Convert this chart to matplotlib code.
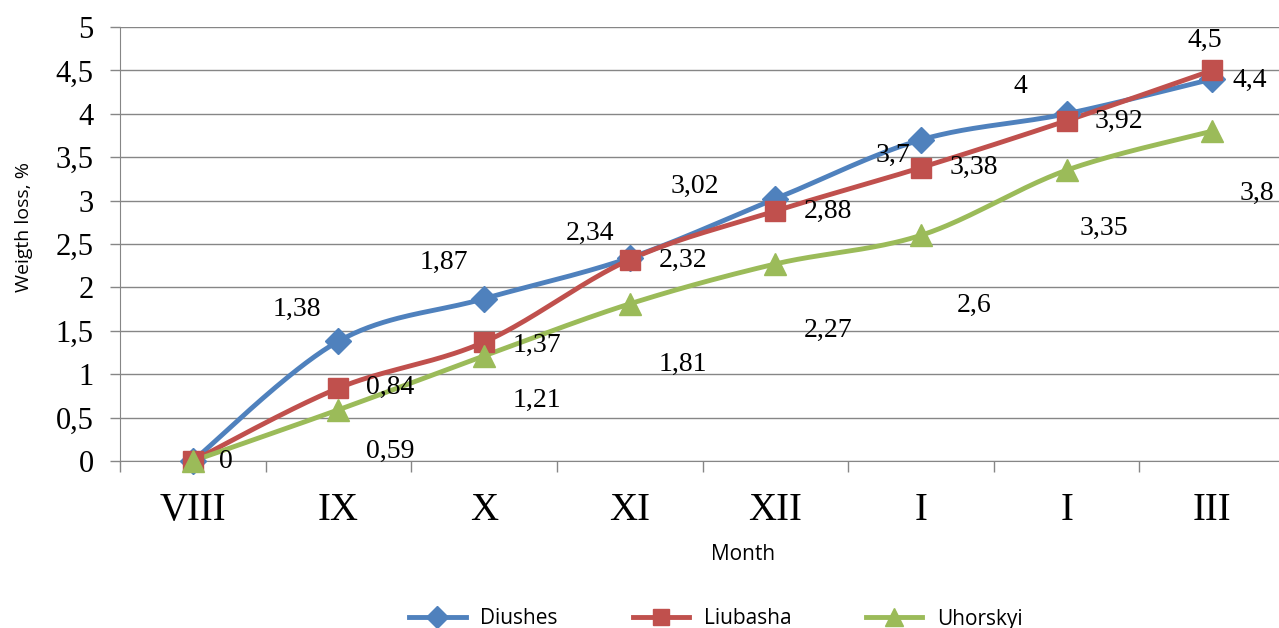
import matplotlib.pyplot as plt
import numpy as np
from matplotlib.lines import Line2D

# --- data ---
months = ['VIII', 'IX', 'X', 'XI', 'XII', 'I', 'I', 'III']
diushes = [0, 1.38, 1.87, 2.34, 3.02, 3.7, 4, 4.4]
liubasha = [0, 0.84, 1.37, 2.32, 2.88, 3.38, 3.92, 4.5]
uhorskyi = [0, 0.59, 1.21, 1.81, 2.27, 2.6, 3.35, 3.8]

# label offsets (pixels) - labels were hand placed in the original
off_d = [None, (-42, 32), (-40, 36), (-40, 24), (-80, 12), (-28, -16), (-46, 27), (38, -1)]
off_l = [(33, 0), (52, 1), (53, -3), (53, -1), (53, 0), (53, 0), (52, -1), (-7, 30)]
off_u = [None, (52, -42), (53, -44), (53, -61), (53, -66), (53, -70), (37, -58), (45, -62)]


def smooth(x, y, n=40):
    # excel-like smoothed line (catmull-rom as cubic bezier)
    p = np.column_stack([x, y]).astype(float)
    p = np.vstack([p[0], p, p[-1]])
    out = []
    t = np.linspace(0, 1, n)[:, None]
    for i in range(1, len(p) - 2):
        p0, p1, p2, p3 = p[i - 1], p[i], p[i + 1], p[i + 2]
        c1 = p1 + (p2 - p0) / 6
        c2 = p2 - (p3 - p1) / 6
        seg = (1 - t) ** 3 * p1 + 3 * (1 - t) ** 2 * t * c1 + 3 * (1 - t) * t ** 2 * c2 + t ** 3 * p2
        out.append(seg)
    out = np.vstack(out)
    return out[:, 0], out[:, 1]


fig = plt.figure(figsize=(12.79, 6.28), dpi=100)
ax = fig.add_axes([120 / 1279, 1 - 461 / 628, 1165 / 1279, 434 / 628])

x = np.arange(len(months))
series = [
    (diushes, '#4F81BD', 'D', 13, 'Diushes', off_d),
    (liubasha, '#C0504D', 's', 14, 'Liubasha', off_l),
    (uhorskyi, '#9BBB59', '^', 16, 'Uhorskyi', off_u),
]

for vals, col, mk, ms, name, offs in series:
    sx, sy = smooth(x, vals)
    ax.plot(sx, sy, color=col, lw=3.5, solid_capstyle='round', clip_on=False, zorder=3)
    ax.plot(x, vals, ls='none', marker=mk, ms=ms, color=col, mec=col, clip_on=False, zorder=4)
    for xi, v, o in zip(x, vals, offs):
        if o is None:
            continue
        ax.annotate(f'{v:g}'.replace('.', ','), (xi, v), xytext=o, textcoords='offset pixels',
                    ha='center', va='center', fontsize=20, family='Liberation Serif',
                    annotation_clip=False, zorder=5)

ax.set_xlim(-0.5, len(months) - 0.5)
ax.set_ylim(0, 5)
ax.set_yticks(np.arange(0, 5.01, 0.5))
ax.set_yticklabels([f'{v:g}'.replace('.', ',') for v in np.arange(0, 5.01, 0.5)],
                   family='Liberation Serif', fontsize=22)
ax.tick_params(axis='y', length=7, width=1, color='#868686', pad=12)
ax.grid(axis='y', color='#868686', lw=1)
ax.set_axisbelow(True)

# category boundaries as major ticks, names on minor ticks
ax.set_xticks(np.arange(-0.5, len(months), 1))
ax.set_xticklabels([])
ax.set_xticks(x, minor=True)
ax.set_xticklabels(months, minor=True, family='Liberation Serif', fontsize=28)
ax.tick_params(axis='x', which='major', length=8, width=1, color='#868686')
ax.tick_params(axis='x', which='minor', length=0, pad=22)

for s in ['top', 'right']:
    ax.spines[s].set_visible(False)
ax.spines['left'].set_color('#868686')
ax.spines['bottom'].set_color('#868686')

ax.set_xlabel('Month', family='Open Sans', fontsize=15)
ax.set_ylabel('Weigth loss, %', family='Open Sans', fontsize=14)
ax.xaxis.set_label_coords(0.535, -0.191)
ax.yaxis.set_label_coords(-0.0747, 0.54)

handles = [Line2D([0], [0], color=c, lw=3.5, marker=m, ms=ms * 0.85, mec=c)
           for _, c, m, ms, _, _ in series]
fig.legend(handles, [s[4] for s in series], loc='center', bbox_to_anchor=(716 / 1279, 1 - 619 / 628),
           ncol=3, frameon=False, handlelength=2.7, handletextpad=0.7, columnspacing=3.6,
           prop={'family': 'Open Sans', 'size': 15})

fig.savefig('out.png', dpi=100)
